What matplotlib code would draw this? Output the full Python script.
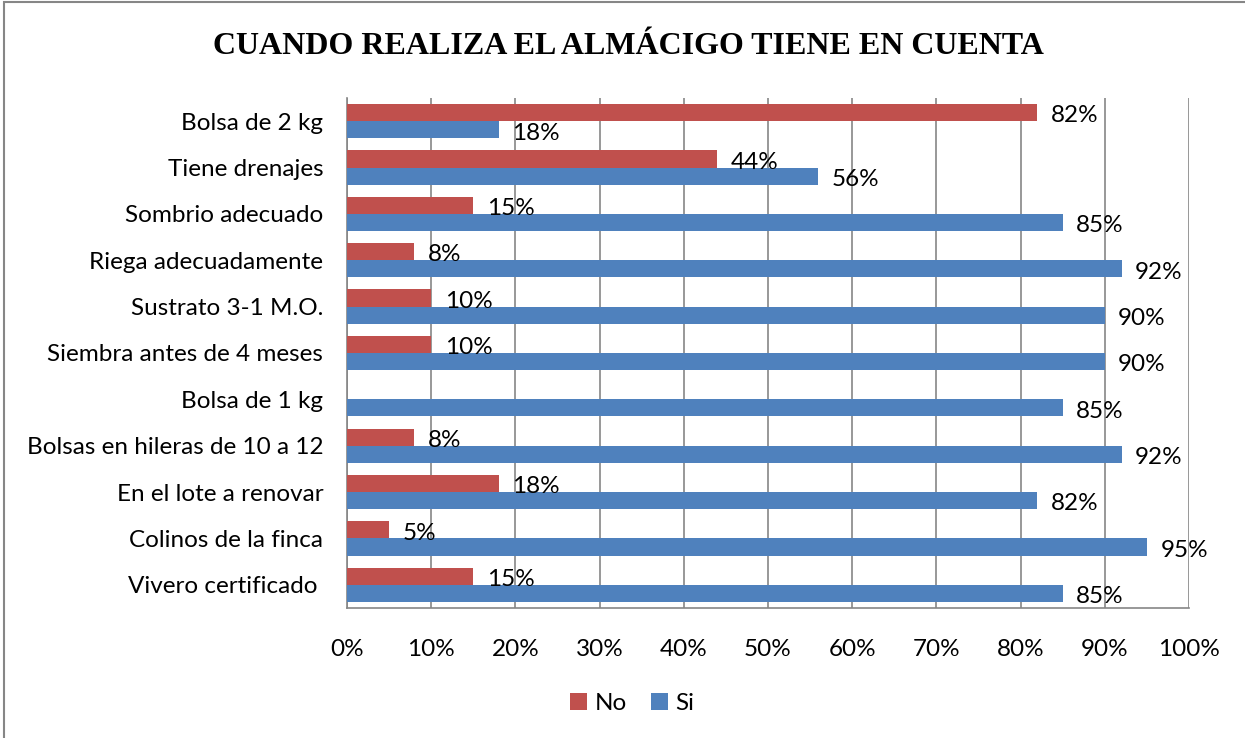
import numpy as np
import matplotlib.pyplot as plt
from matplotlib.patches import Rectangle

# Datos (de arriba hacia abajo)
categorias = ['Bolsa de 2 kg', 'Tiene drenajes', 'Sombrio adecuado',
              'Riega adecuadamente', 'Sustrato 3-1 M.O.', 'Siembra antes de 4 meses',
              'Bolsa de 1 kg', 'Bolsas en hileras de 10 a 12', 'En el lote a renovar',
              'Colinos de la finca', 'Vivero certificado ']
no_vals = [82, 44, 15, 8, 10, 10, 0, 8, 18, 5, 15]
si_vals = [18, 56, 85, 92, 90, 90, 85, 92, 82, 95, 85]
xticks = [0, 10, 20, 30, 40, 50, 60, 70, 80, 90, 100]

ROJO = '#C0504D'
AZUL = '#4F81BD'
GRIS = '#868686'
FS = 17.5

plt.rcParams['font.family'] = ['Lato', 'DejaVu Sans']

fig = plt.figure(figsize=(12.45, 7.38), dpi=100)
ax = fig.add_axes([0.2787, 0.1762, 0.955 - 0.2787, 0.8672 - 0.1762])

y = np.arange(len(categorias))
h = 0.37
ax.barh(y - h / 2, no_vals, height=h, color=ROJO, label='No', zorder=3)
ax.barh(y + h / 2, si_vals, height=h, color=AZUL, label='Si', zorder=3)

for i in range(len(categorias)):
    if no_vals[i] > 0:
        ax.text(no_vals[i] + 1.6, y[i] - h / 2 + 0.07, f'{no_vals[i]}%',
                va='center', ha='left', fontsize=FS, zorder=4)
    ax.text(si_vals[i] + 1.6, y[i] + h / 2 + 0.07, f'{si_vals[i]}%',
            va='center', ha='left', fontsize=FS, zorder=4)

ax.set_xlim(0, 100)
ax.set_ylim(len(categorias) - 0.5, -0.5)
ax.set_xticks(xticks)
ax.set_xticklabels([f'{t}%' for t in xticks], fontsize=FS)
ax.set_yticks(y)
ax.set_yticklabels(categorias, fontsize=FS)
ax.tick_params(axis='y', length=0, pad=17)
ax.tick_params(axis='x', length=0, pad=22)
ax.xaxis.grid(True, color=GRIS, linewidth=1.2, zorder=0)

for side in ['top', 'right']:
    ax.spines[side].set_visible(False)
for side in ['left', 'bottom']:
    ax.spines[side].set_color(GRIS)
    ax.spines[side].set_linewidth(1.2)

fig.text(0.505, 0.937, 'CUANDO REALIZA EL ALMÁCIGO TIENE EN CUENTA',
         ha='center', va='center', fontsize=23, fontweight='bold',
         family='Liberation Serif')

fig.legend(loc='center', bbox_to_anchor=(0.508, 0.047), ncol=2, frameon=False,
           fontsize=FS, handlelength=0.7, handleheight=0.7, handletextpad=0.3,
           columnspacing=1.0)

# borde del area del grafico
fig.patches.append(Rectangle((0.003, -0.01), 1.2, 1.007, transform=fig.transFigure,
                             fill=False, edgecolor=GRIS, linewidth=1.5))

fig.savefig('out.png', dpi=100)
